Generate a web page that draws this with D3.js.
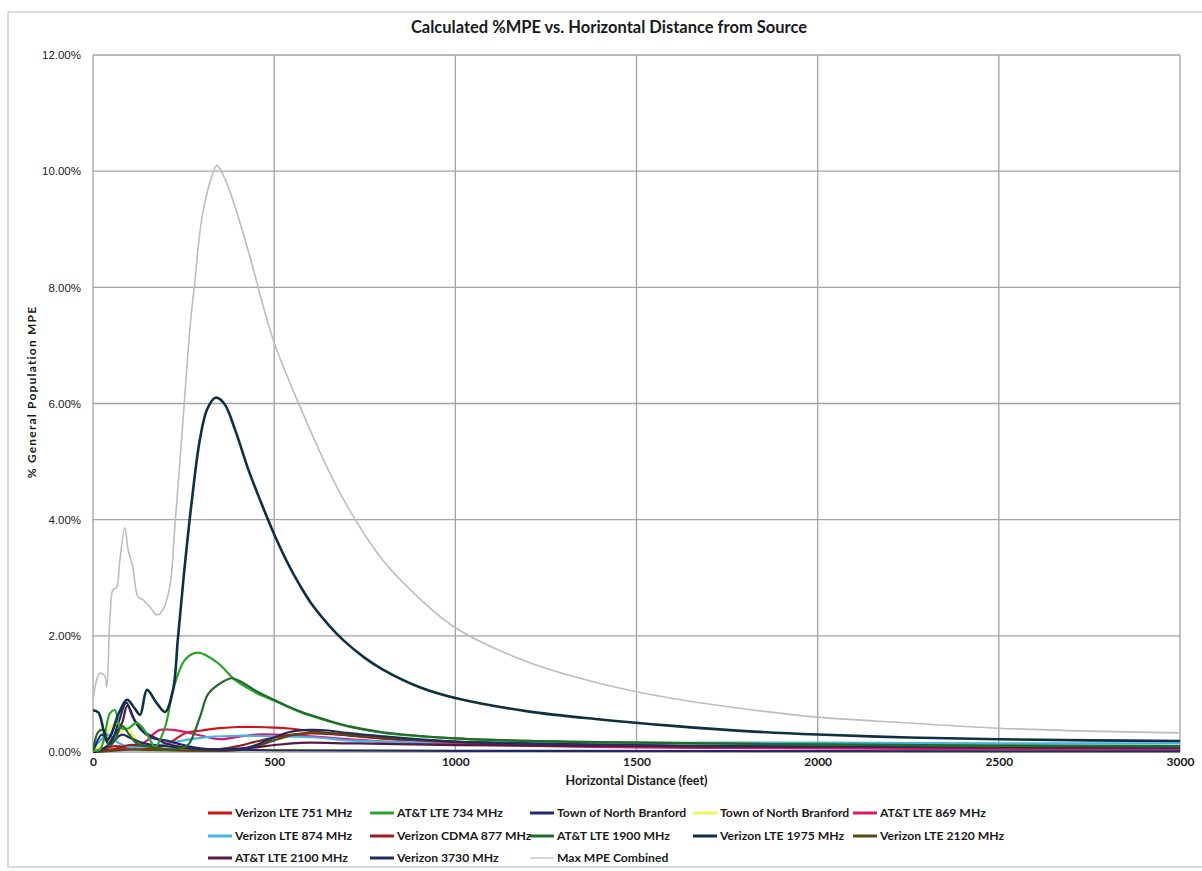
<!DOCTYPE html>
<html>
<head>
<meta charset="utf-8">
<script src="https://cdn.jsdelivr.net/npm/d3@7"></script>
<style>
  body { margin: 0; background: #fff; }
  .title, .axis-title, .legend text, .xtick { font-family: Lato, "Open Sans", sans-serif; font-weight: bold; fill: #1a1a1a; }
  .ytick { font-family: "Liberation Sans", Arial, sans-serif; fill: #1a1a1a; }
</style>
</head>
<body>
<svg id="chart" width="1202" height="871"></svg>
<script>
// distance (feet), % general population MPE
var verizon751 = [[0,0],[30,0.05],[60,0.1],[100,0.08],[150,0.05],[200,0.12],[258,0.33],[300,0.37],[350,0.41],[400,0.43],[450,0.43],[500,0.42],[550,0.4],[600,0.36],[700,0.29],[800,0.23],[1000,0.15],[1200,0.12],[1500,0.09],[2000,0.07],[3000,0.06]];
var att734 = [[0,0.02],[20,0.05],[35,0.38],[47,0.67],[61,0.72],[74,0.43],[95,0.4],[121,0.5],[150,0.3],[171,0.09],[199,0.43],[221,1.07],[254,1.59],[290,1.71],[345,1.53],[392,1.24],[450,1.02],[502,0.88],[571,0.69],[650,0.53],[709,0.43],[800,0.33],[985,0.24],[1200,0.19],[1500,0.16],[2000,0.13],[2500,0.11],[3000,0.1]];
var townNavy = [[0,0],[25,0.3],[45,0.12],[70,0.5],[92,0.85],[110,0.6],[130,0.4],[160,0.25],[200,0.2],[250,0.12],[300,0.06],[400,0.04],[500,0.03],[1000,0.02],[3000,0.01]];
var townYellow = [[0,0],[20,0.1],[40,0.35],[60,0.48],[75,0.35],[95,0.42],[110,0.3],[130,0.15],[160,0.08],[200,0.06],[300,0.05],[500,0.04],[700,0.03],[1000,0.02],[3000,0.01]];
var att869 = [[0,0],[40,0.03],[80,0.06],[120,0.1],[150,0.2],[165,0.3],[185,0.38],[220,0.38],[250,0.35],[300,0.28],[350,0.22],[400,0.26],[450,0.3],[500,0.3],[600,0.27],[700,0.22],[800,0.18],[1000,0.13],[1500,0.08],[2000,0.06],[3000,0.04]];
var verizon874 = [[0,0.05],[20,0.2],[40,0.3],[60,0.2],[90,0.1],[130,0.08],[180,0.12],[250,0.2],[320,0.26],[400,0.28],[500,0.27],[617,0.25],[700,0.2],[800,0.18],[1000,0.17],[1500,0.16],[2000,0.16],[2500,0.15],[3000,0.15]];
var cdma877 = [[0,0],[30,0.02],[60,0.05],[100,0.12],[150,0.1],[200,0.05],[250,0.03],[300,0.03],[350,0.05],[400,0.1],[450,0.18],[500,0.25],[550,0.3],[600,0.32],[650,0.31],[700,0.29],[800,0.24],[1000,0.17],[1500,0.11],[2000,0.09],[2500,0.08],[3000,0.07]];
var att1900 = [[0,0.02],[15,0.35],[30,0.38],[45,0.1],[60,0.2],[80,0.45],[100,0.3],[120,0.15],[150,0.1],[180,0.06],[230,0.05],[262,0.12],[295,0.6],[318,1.0],[356,1.2],[383,1.27],[411,1.2],[450,1.05],[502,0.89],[571,0.7],[650,0.54],[709,0.44],[800,0.34],[985,0.24],[1200,0.19],[1500,0.16],[2000,0.13],[2500,0.11],[3000,0.1]];
var verizon1975 = [[0,0.72],[15,0.68],[30,0.35],[38,0.2],[50,0.3],[70,0.65],[94,0.9],[115,0.75],[130,0.64],[149,1.07],[175,0.85],[199,0.69],[221,1.07],[234,1.93],[250,3.0],[273,4.34],[295,5.38],[315,5.9],[338,6.1],[362,6.0],[392,5.55],[430,4.84],[461,4.34],[500,3.75],[540,3.22],[571,2.87],[600,2.58],[650,2.19],[690,1.93],[750,1.62],[800,1.42],[900,1.12],[1000,0.93],[1200,0.7],[1400,0.56],[1600,0.45],[1800,0.36],[2000,0.3],[2250,0.25],[2500,0.22],[2750,0.2],[3000,0.19]];
var verizon2120 = [[0,0],[50,0.02],[100,0.04],[200,0.03],[300,0.02],[400,0.03],[450,0.1],[500,0.2],[550,0.29],[600,0.33],[650,0.33],[700,0.3],[800,0.25],[1000,0.18],[1500,0.11],[2000,0.09],[3000,0.07]];
var att2100 = [[0,0],[30,0.05],[60,0.3],[80,0.5],[95,0.8],[115,0.55],[140,0.35],[170,0.25],[200,0.15],[250,0.08],[300,0.05],[350,0.04],[400,0.05],[450,0.08],[500,0.12],[550,0.15],[600,0.16],[700,0.15],[800,0.14],[1000,0.12],[1500,0.1],[2000,0.09],[3000,0.08]];
var verizon3730 = [[0,0],[40,0.1],[80,0.3],[100,0.25],[140,0.15],[200,0.1],[280,0.06],[350,0.05],[430,0.08],[480,0.2],[540,0.34],[600,0.38],[650,0.37],[700,0.33],[800,0.27],[1000,0.18],[1500,0.12],[2000,0.1],[2500,0.09],[3000,0.08]];
var maxCombined = [[0,0.88],[10,1.24],[19,1.36],[33,1.3],[38,1.12],[47,2.33],[55,2.79],[65,2.83],[74,3.3],[88,3.86],[97,3.48],[110,3.19],[124,2.67],[138,2.62],[157,2.5],[176,2.36],[193,2.45],[212,2.85],[226,3.88],[248,5.67],[268,7.33],[281,8.09],[295,8.95],[309,9.47],[325,9.85],[342,10.1],[358,9.95],[375,9.7],[397,9.29],[433,8.53],[497,7.1],[571,5.95],[650,4.85],[700,4.25],[800,3.3],[900,2.65],[1000,2.14],[1200,1.55],[1400,1.18],[1600,0.92],[1800,0.74],[2000,0.6],[2250,0.5],[2500,0.41],[2750,0.36],[3000,0.33]];

var seriesNames = ["Verizon LTE 751 MHz","AT&T LTE 734 MHz","Town of North Branford","Town of North Branford","AT&T LTE 869 MHz",
                   "Verizon LTE 874 MHz","Verizon CDMA 877 MHz","AT&T LTE 1900 MHz","Verizon LTE 1975 MHz","Verizon LTE 2120 MHz",
                   "AT&T LTE 2100 MHz","Verizon 3730 MHz","Max MPE Combined"];
var seriesData = [verizon751, att734, townNavy, townYellow, att869, verizon874, cdma877, att1900, verizon1975, verizon2120, att2100, verizon3730, maxCombined];
var seriesColors = ["#cc1616","#2aa52a","#1f2a6a","#f5f55a","#e0146a","#45b4e4","#9c1c1c","#23692c","#0d3042","#5a4912","#5a1846","#1e2f5e","#bdbdbd"];
var xTicks = [0,500,1000,1500,2000,2500,3000];
var yTicks = [0,2,4,6,8,10,12];

var svg = d3.select("#chart");
var plotLeft = 93, plotRight = 1180, plotTop = 55, plotBottom = 752;

// outer chart frame
svg.append("rect").attr("x",8).attr("y",12).attr("width",1200).attr("height",855)
    .attr("fill","none").attr("stroke","#cfcfcf").attr("stroke-width",1.5);

var x = d3.scaleLinear().domain([0,3000]).range([plotLeft,plotRight]);
var y = d3.scaleLinear().domain([0,12]).range([plotBottom,plotTop]);

// grid
var grid = svg.append("g");
grid.selectAll(".vg").data(xTicks).enter().append("line")
    .attr("x1",d => x(d)).attr("x2",d => x(d)).attr("y1",plotTop).attr("y2",plotBottom)
    .attr("stroke","#a3a3a3").attr("stroke-width",1.3);
grid.selectAll(".hg").data(yTicks).enter().append("line")
    .attr("x1",plotLeft).attr("x2",plotRight).attr("y1",d => y(d)).attr("y2",d => y(d))
    .attr("stroke","#a3a3a3").attr("stroke-width",1.3);

// axes (labels only)
var yAxis = d3.axisLeft(y).tickValues(yTicks).tickSize(0).tickPadding(12).tickFormat(d => d.toFixed(2) + "%");
svg.append("g").attr("transform",`translate(${plotLeft},0)`).call(yAxis)
    .call(g => g.select(".domain").remove())
    .selectAll("text").attr("class","ytick").attr("font-size",11.5);
var xAxis = d3.axisBottom(x).tickValues(xTicks).tickSize(0).tickPadding(5).tickFormat(d3.format("d"));
svg.append("g").attr("transform",`translate(0,${plotBottom})`).call(xAxis)
    .call(g => g.select(".domain").remove())
    .selectAll("text").attr("class","xtick").attr("font-size",12);

svg.append("defs").append("clipPath").attr("id","plotclip").append("rect")
    .attr("x",plotLeft).attr("y",plotTop).attr("width",plotRight-plotLeft).attr("height",plotBottom-plotTop+2);

var line = d3.line().x(d => x(d[0])).y(d => y(d[1])).curve(d3.curveCatmullRom.alpha(0.5));
var plot = svg.append("g").attr("clip-path","url(#plotclip)");
var order = [12,3,0,4,5,6,9,10,11,2,1,7,8];
order.forEach(function(i) {
    plot.append("path").datum(seriesData[i])
        .attr("fill","none")
        .attr("stroke",seriesColors[i])
        .attr("stroke-width", i == 12 ? 1.6 : (i == 8 ? 2.6 : 2.2))
        .attr("stroke-linejoin","round")
        .attr("d",line);
});

// titles
svg.append("text").attr("class","title").attr("x",609).attr("y",33).attr("text-anchor","middle")
    .attr("font-size",16.5).text("Calculated %MPE vs. Horizontal Distance from Source");
svg.append("text").attr("class","axis-title").attr("x",(plotLeft+plotRight)/2).attr("y",785).attr("text-anchor","middle")
    .attr("font-size",12.5).text("Horizontal Distance (feet)");
svg.append("text").attr("class","axis-title").attr("transform","translate(36,392) rotate(-90)")
    .attr("text-anchor","middle").attr("font-size",12).attr("letter-spacing",1.2).text("% General Population MPE");

// legend
var colX = [208,370,530,693,853];
var rowY = [813,836,858];
var legend = svg.append("g").attr("class","legend");
seriesNames.forEach(function(name,i) {
    var gx = colX[i % 5], gy = rowY[Math.floor(i / 5)];
    legend.append("line").attr("x1",gx).attr("x2",gx+24).attr("y1",gy).attr("y2",gy)
        .attr("stroke",seriesColors[i]).attr("stroke-width", i == 12 ? 1.2 : 3);
    legend.append("text").attr("x",gx+27).attr("y",gy+4).attr("font-size",12.2).text(name);
});
</script>
</body>
</html>
